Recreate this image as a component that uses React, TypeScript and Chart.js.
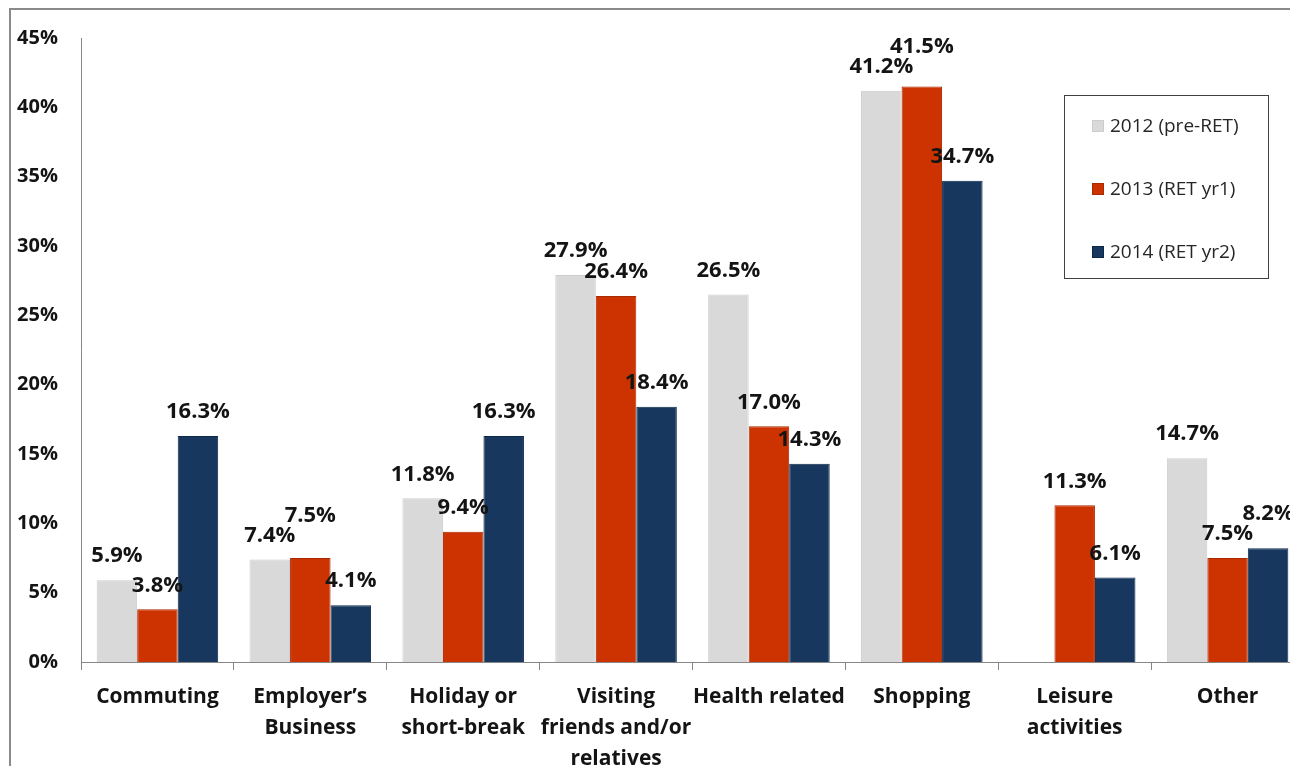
import React, { useEffect, useRef } from "react";
import { Chart, registerables } from "chart.js";

Chart.register(...registerables);

const categories: string[][] = [
  ["Commuting"],
  ["Employer’s", "Business"],
  ["Holiday or", "short-break"],
  ["Visiting", "friends and/or", "relatives"],
  ["Health related"],
  ["Shopping"],
  ["Leisure", "activities"],
  ["Other"],
];
const seriesNames = ["2012 (pre-RET)", "2013 (RET yr1)", "2014 (RET yr2)"];
const values2012: (number | null)[] = [5.9, 7.4, 11.8, 27.9, 26.5, 41.2, null, 14.7];
const values2013: (number | null)[] = [3.8, 7.5, 9.4, 26.4, 17.0, 41.5, 11.3, 7.5];
const values2014: (number | null)[] = [16.3, 4.1, 16.3, 18.4, 14.3, 34.7, 6.1, 8.2];
const yMin = 0;
const yMax = 45;
const yStep = 5;

const FONT = "'Open Sans'";

const barLabelPlugin = {
  id: "barLabels",
  afterDatasetsDraw(chart: any) {
    const ctx = chart.ctx;
    ctx.save();
    ctx.font = `bold 22px ${FONT}`;
    ctx.fillStyle = "#141414";
    ctx.textAlign = "center";
    ctx.textBaseline = "middle";
    const n = chart.data.labels.length;
    const h = 20;
    for (let i = 0; i < n; i++) {
      const placed: { x: number; y: number; w: number }[] = [];
      chart.data.datasets.forEach((ds: any, di: number) => {
        const v = ds.data[i];
        if (v == null) return;
        const el = chart.getDatasetMeta(di).data[i];
        const text = Number(v).toFixed(1) + "%";
        const w = ctx.measureText(text).width;
        let cy = el.y - 24;
        let moved = true;
        let guard = 0;
        while (moved && guard < 10) {
          moved = false;
          guard++;
          for (const p of placed) {
            if (Math.abs(p.x - el.x) < (p.w + w) / 2 && Math.abs(p.y - cy) < h) {
              cy = p.y - h;
              moved = true;
            }
          }
        }
        placed.push({ x: el.x, y: cy, w });
        ctx.fillText(text, el.x, cy);
      });
    }
    ctx.restore();
  },
};

const boxLegendPlugin = {
  id: "boxLegend",
  afterDraw(chart: any) {
    const ctx = chart.ctx;
    const bx = 1052.5;
    const by = 84.5;
    const bw = 204;
    const bh = 183;
    ctx.save();
    ctx.fillStyle = "#ffffff";
    ctx.fillRect(bx, by, bw, bh);
    ctx.strokeStyle = "#404040";
    ctx.lineWidth = 1;
    ctx.strokeRect(bx, by, bw, bh);
    ctx.font = `19px ${FONT}`;
    ctx.textAlign = "left";
    ctx.textBaseline = "middle";
    chart.data.datasets.forEach((ds: any, i: number) => {
      const cy = 115 + i * 63;
      ctx.fillStyle = ds.backgroundColor;
      ctx.fillRect(1080, cy - 6, 12, 12);
      ctx.strokeStyle = ds.borderColor;
      ctx.strokeRect(1080.5, cy - 5.5, 11, 11);
      ctx.fillStyle = "#262626";
      ctx.fillText(ds.label, 1098, cy + 1);
    });
    ctx.restore();
  },
};

export default function App() {
  const ref = useRef<HTMLCanvasElement | null>(null);

  useEffect(() => {
    if (!ref.current) return;
    const chart = new Chart(ref.current, {
      type: "bar",
      data: {
        labels: categories,
        datasets: [
          {
            label: seriesNames[0],
            data: values2012,
            backgroundColor: "#D9D9D9",
            borderColor: "#CCCCCC",
            borderWidth: 1,
          },
          {
            label: seriesNames[1],
            data: values2013,
            backgroundColor: "#CC3300",
            borderColor: "#A82A00",
            borderWidth: 1,
          },
          {
            label: seriesNames[2],
            data: values2014,
            backgroundColor: "#17375E",
            borderColor: "#0E2847",
            borderWidth: 1,
          },
        ],
      },
      options: {
        animation: false,
        responsive: false,
        maintainAspectRatio: false,
        datasets: {
          bar: { categoryPercentage: 0.795, barPercentage: 1.0 },
        },
        layout: { padding: { top: 27, right: 38, left: 0, bottom: 0 } },
        plugins: {
          legend: { display: false },
          tooltip: { enabled: false },
          title: { display: false },
        },
        scales: {
          x: {
            grid: {
              display: true,
              drawOnChartArea: false,
              drawTicks: true,
              tickLength: 8,
              color: "#868686",
              offset: true,
            },
            border: { display: true, color: "#868686", width: 1 },
            ticks: {
              font: { family: FONT, size: 21, weight: "bold", lineHeight: 1.48 },
              color: "#141414",
              padding: 11,
              maxRotation: 0,
              autoSkip: false,
            },
            afterFit: (s: any) => {
              s.height = 149;
              s.paddingLeft = 0;
              s.paddingRight = 0;
            },
          },
          y: {
            min: yMin,
            max: yMax,
            ticks: {
              stepSize: yStep,
              callback: (v: any) => `${v}%`,
              font: { family: FONT, size: 20, weight: "bold" },
              color: "#141414",
              padding: 23,
            },
            grid: { display: false, drawTicks: false },
            border: { display: true, color: "#868686", width: 1 },
            afterFit: (s: any) => {
              s.width = 69;
              s.paddingTop = 0;
              s.paddingBottom = 0;
            },
          },
        },
      },
      plugins: [barLabelPlugin, boxLegendPlugin],
    } as any);
    return () => chart.destroy();
  }, []);

  return (
    <div
      style={{
        position: "fixed",
        left: 0,
        top: 0,
        width: 1290,
        height: 766,
        overflow: "hidden",
        background: "#fff",
      }}
    >
      <div
        style={{
          position: "absolute",
          left: 9,
          top: 8,
          width: 1400,
          height: 900,
          borderLeft: "2px solid #8a8a8a",
          borderTop: "2px solid #8a8a8a",
        }}
      >
        <canvas
          ref={ref}
          width={1330}
          height={800}
          style={{ position: "absolute", left: 1, top: 1, width: 1330, height: 800 }}
        />
      </div>
    </div>
  );
}
